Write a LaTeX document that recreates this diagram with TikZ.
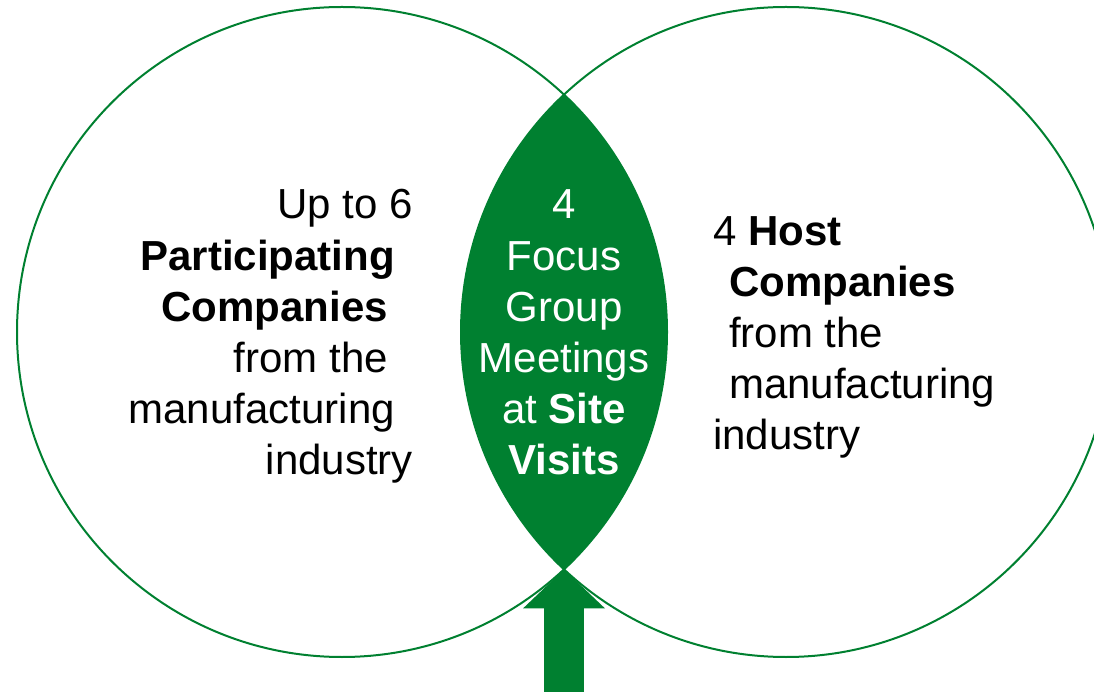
\documentclass[tikz,border=0pt]{standalone}
\usepackage{fontspec}
\setmainfont{Liberation Sans}
\usetikzlibrary{arrows.meta}
\definecolor{vgreen}{RGB}{0,128,48}

\begin{document}
\begin{tikzpicture}[x=1pt,y=1pt,
    txt/.style={inner sep=0pt,font=\fontsize{42}{51.2}\selectfont},
    ring/.style={draw=vgreen,line width=2pt}]
    % Cadre de la figure
    \useasboundingbox (0,0) rectangle (1094,691);
    \clip (0,0) rectangle (1094,691);

    % Centres des deux cercles et points d'intersection
    \coordinate (L) at (342,359);
    \coordinate (R) at (786,359);
    \coordinate (top) at (564,596.4);
    \coordinate (bot) at (564,121.6);
    \coordinate (foot) at (564,-5);

    % Partie commune remplie
    \begin{scope}
      \clip (L) circle (325);
      \fill[vgreen] (R) circle (325);
    \end{scope}

    % Les deux cercles
    \draw[ring] (L) circle (325);
    \draw[ring] (R) circle (325);

    % Flèche vers la partie commune
    \draw[vgreen,line width=40pt,-{Triangle[width=82pt,length=39pt,line width=0pt]}] (foot) -- (bot);

    % Textes
    \node[txt,align=right,anchor=base east] (parts) at (413,216)
      {Up to 6\\
       \textbf{Participating}\hspace{18pt}\mbox{}\\
       \textbf{Companies}\hspace{25pt}\mbox{}\\
       from the\hspace{25pt}\mbox{}\\
       manufacturing\hspace{18pt}\mbox{}\\
       industry};
    \node[txt,align=center,text=white,anchor=base] (visits) at (564,216)
      {4\\Focus\\Group\\Meetings\\at \textbf{Site}\\\textbf{Visits}};
    \node[txt,align=left,anchor=base west] (hosts) at (713,241)
      {4 \textbf{Host}\\
       \hspace*{16pt}\textbf{Companies}\\
       \hspace*{16pt}from the\\
       \hspace*{16pt}manufacturing\\
       industry};
\end{tikzpicture}
\end{document}
